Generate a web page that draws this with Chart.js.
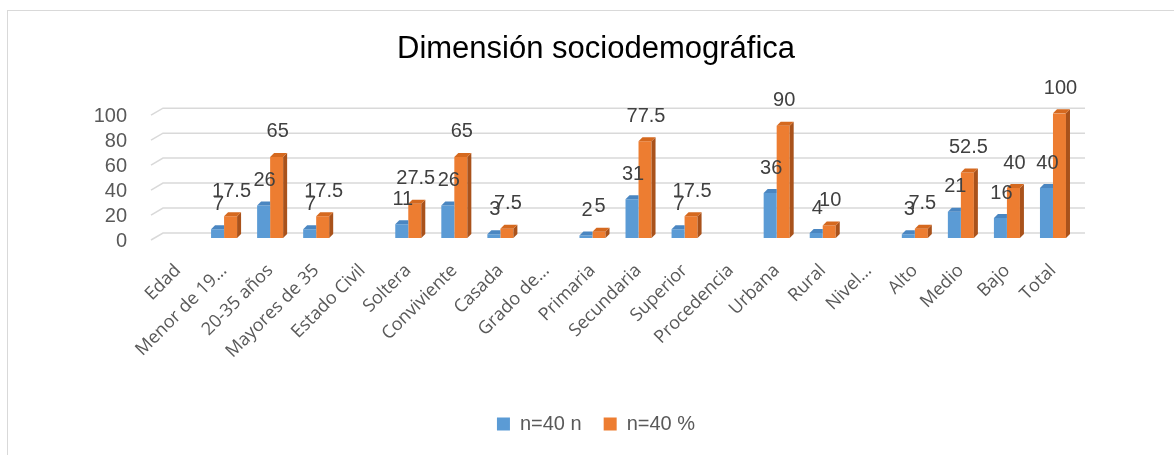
<!DOCTYPE html>
<html>
<head>
<meta charset="utf-8">
<script src="https://cdn.jsdelivr.net/npm/chart.js@4.4.1/dist/chart.umd.min.js"></script>
<style>
  html, body { margin: 0; padding: 0; background: #fff; }
  #wrap { width: 1174px; height: 455px; position: relative; }
</style>
</head>
<body>
<div id="wrap"><canvas id="chart"></canvas></div>
<script>
// data
const categories = ['Edad', 'Menor de 19…', '20-35 años', 'Mayores de 35', 'Estado Civil',
  'Soltera', 'Conviviente', 'Casada', 'Grado de…', 'Primaria', 'Secundaria', 'Superior',
  'Procedencia', 'Urbana', 'Rural', 'Nivel…', 'Alto', 'Medio', 'Bajo', 'Total'];
const countValues = [null, 7, 26, 7, null, 11, 26, 3, null, 2, 31, 7, null, 36, 4, null, 3, 21, 16, 40];
const percentValues = [null, 17.5, 65, 17.5, null, 27.5, 65, 7.5, null, 5, 77.5, 17.5, null, 90, 10, null, 7.5, 52.5, 40, 100];
const yTicks = [0, 20, 40, 60, 80, 100];

const FONT = "'Liberation Sans', Arial, sans-serif";

// colours for the front / top / side faces
const faces = [
  { front: '#5b9bd5', top: '#4a86c1', side: '#3d6f9f' },
  { front: '#ed7d31', top: '#d5691f', side: '#a9521b' }
];

// light frame round the chart
const framePlugin = {
  id: 'frame',
  beforeDraw(chart) {
    const ctx = chart.ctx;
    ctx.save();
    ctx.strokeStyle = '#d9d9d9';
    ctx.lineWidth = 1;
    ctx.strokeRect(7.5, 10.5, 1200, 500);
    ctx.restore();
  }
};

// back wall gridlines with the little floor diagonal on the left
const grid3dPlugin = {
  id: 'grid3d',
  beforeDatasetsDraw(chart) {
    const ctx = chart.ctx;
    const y = chart.scales.y;
    const area = chart.chartArea;
    ctx.save();
    ctx.strokeStyle = '#d9d9d9';
    ctx.lineWidth = 1.5;
    y.ticks.forEach(t => {
      const py = y.getPixelForValue(t.value);
      ctx.beginPath();
      ctx.moveTo(area.left - 4, py + 2);
      ctx.lineTo(area.left + 8, py - 5);
      ctx.lineTo(area.right + 9, py - 5);
      ctx.stroke();
    });
    ctx.restore();
  }
};

// top and side faces so the bars look like Excel 3D columns
const bars3dPlugin = {
  id: 'bars3d',
  afterDatasetsDraw(chart) {
    const ctx = chart.ctx;
    const dx = 4, dy = 4;
    ctx.save();
    chart.data.datasets.forEach((ds, di) => {
      const f = faces[di];
      const meta = chart.getDatasetMeta(di);
      meta.data.forEach((bar, i) => {
        const v = ds.data[i];
        if (v === null || v === undefined) return;
        const p = bar.getProps(['x', 'y', 'base', 'width'], true);
        const l = p.x - p.width / 2, r = p.x + p.width / 2;
        // the blue column sits behind the orange one when orange is taller
        const next = chart.data.datasets[di + 1];
        const hidden = next && next.data[i] !== null && next.data[i] >= v;
        if (!hidden) {
          ctx.fillStyle = f.side;
          ctx.beginPath();
          ctx.moveTo(r, p.y);
          ctx.lineTo(r + dx, p.y - dy);
          ctx.lineTo(r + dx, p.base - dy);
          ctx.lineTo(r, p.base);
          ctx.closePath();
          ctx.fill();
        }
        ctx.fillStyle = f.top;
        ctx.beginPath();
        ctx.moveTo(l, p.y);
        ctx.lineTo(l + dx, p.y - dy);
        ctx.lineTo(hidden ? r : r + dx, p.y - dy);
        ctx.lineTo(r, p.y);
        ctx.closePath();
        ctx.fill();
      });
    });
    ctx.restore();
  }
};

// value labels above every bar
const valueLabelPlugin = {
  id: 'valueLabels',
  afterDatasetsDraw(chart) {
    const ctx = chart.ctx;
    ctx.save();
    ctx.font = '20px ' + FONT;
    ctx.fillStyle = '#404040';
    ctx.textAlign = 'center';
    ctx.textBaseline = 'middle';
    chart.data.datasets.forEach((ds, di) => {
      chart.getDatasetMeta(di).data.forEach((bar, i) => {
        const v = ds.data[i];
        if (v === null || v === undefined) return;
        ctx.fillText(String(v), bar.x + 1, bar.y - 25);
      });
    });
    ctx.restore();
  }
};

new Chart(document.getElementById('chart'), {
  type: 'bar',
  data: {
    labels: categories,
    datasets: [
      {
        label: 'n=40 n',
        data: countValues,
        backgroundColor: faces[0].front,
        categoryPercentage: 0.565,
        barPercentage: 1.0
      },
      {
        label: 'n=40 %',
        data: percentValues,
        backgroundColor: faces[1].front,
        categoryPercentage: 0.565,
        barPercentage: 1.0
      }
    ]
  },
  options: {
    responsive: true,
    maintainAspectRatio: false,
    animation: false,
    layout: { padding: { left: 18, right: 0, top: 0, bottom: 11 } },
    plugins: {
      title: {
        display: true,
        text: 'Dimensión sociodemográfica',
        color: '#000',
        font: { size: 31, family: FONT, weight: 'normal' },
        padding: { top: 31, bottom: 45 }
      },
      legend: {
        position: 'bottom',
        labels: {
          boxWidth: 13,
          boxHeight: 13,
          padding: 22,
          color: '#595959',
          font: { size: 20, family: FONT }
        }
      },
      tooltip: { enabled: false }
    },
    scales: {
      x: {
        grid: { display: false },
        border: { display: false },
        ticks: {
          autoSkip: false,
          maxRotation: 45,
          minRotation: 45,
          padding: 14,
          color: '#595959',
          font: { size: 18, family: "'Open Sans', sans-serif" }
        },
        afterFit(scale) { scale.height = 154; }
      },
      y: {
        min: 0,
        max: 100,
        grid: { display: false },
        border: { display: false },
        afterBuildTicks(scale) { scale.ticks = yTicks.map(v => ({ value: v })); },
        ticks: {
          autoSkip: false,
          padding: 20,
          labelOffset: 3,
          color: '#595959',
          font: { size: 20, family: FONT }
        },
        afterFit(scale) { scale.width = 137; }
      },
      // empty right axis only keeps room on the right like the original
      yRight: {
        position: 'right',
        min: 0,
        max: 100,
        grid: { display: false },
        border: { display: false },
        ticks: { display: false },
        afterFit(scale) { scale.width = 98; }
      }
    }
  },
  plugins: [framePlugin, grid3dPlugin, bars3dPlugin, valueLabelPlugin]
});
</script>
</body>
</html>
